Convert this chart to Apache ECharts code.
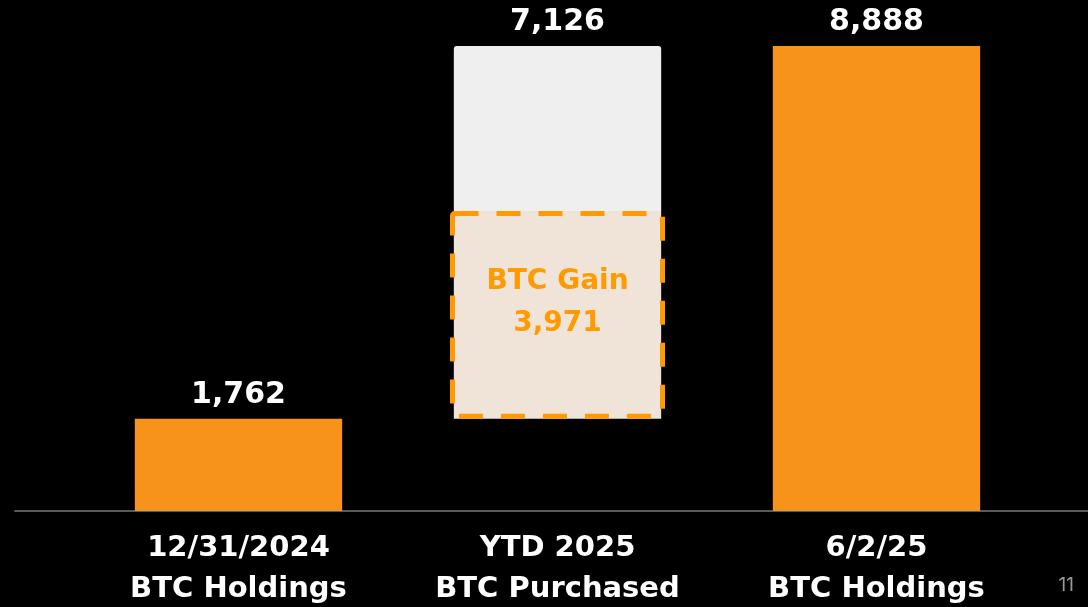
<!DOCTYPE html>
<html>
<head>
    <meta charset="UTF-8">
    <title>BTC Holdings</title>
    <script src="https://cdn.jsdelivr.net/npm/echarts@6/dist/echarts.min.js"></script>
</head>
<body style="margin:0;background:#000;">
<div id="main" style="width:1088px;height:607px;"></div>
<script type="text/javascript">
    var categories = ['12/31/2024\nBTC Holdings', 'YTD 2025\nBTC Purchased', '6/2/25\nBTC Holdings'];
    var totals = [1762, 7126, 8888];      // value shown above each bar
    var baseValues = [0, 1762, 0];        // invisible offset of the floating bar
    var gainValues = ['-', 3971, '-'];    // BTC Gain part of the purchased bar
    var gainLabel = 'BTC Gain';
    var pageNumber = '11';

    var orange = '#f7931a';
    var dashOrange = '#ff9a00';
    var font = '"DejaVu Sans"';

    function fmt(v) {
        return v.toLocaleString('en-US');
    }

    // remaining segment on top of the gain box
    var topValues = totals.map(function (v, i) {
        return gainValues[i] === '-' ? v : v - gainValues[i];
    });

    var gridBox = {left: 79, right: 52, top: 46, bottom: 96, outerBoundsMode: 'none'};

    var chart = echarts.init(document.getElementById('main'));
    var option = {
        backgroundColor: '#000',
        animation: false,
        grid: [
            gridBox,
            {left: 15, right: 0, top: 46, bottom: 96, outerBoundsMode: 'none'},
            gridBox
        ],
        xAxis: [{
            type: 'category',
            gridIndex: 0,
            data: categories,
            axisLine: {show: false},
            axisTick: {show: false},
            axisLabel: {
                color: '#fff',
                fontFamily: font,
                fontWeight: 'bold',
                fontSize: 29,
                lineHeight: 41,
                margin: 17
            }
        }, {
            type: 'category',
            gridIndex: 1,
            data: [''],
            axisLine: {lineStyle: {color: '#5a5a5a', width: 2}},
            axisTick: {show: false},
            axisLabel: {show: false}
        }, {
            type: 'category',
            gridIndex: 2,
            data: categories,
            show: false
        }],
        yAxis: [0, 1, 2].map(function (g) {
            return {type: 'value', gridIndex: g, min: 0, max: 8888, show: false};
        }),
        series: [
            {
                type: 'bar',
                stack: 'btc',
                barWidth: '65%',
                data: baseValues,
                itemStyle: {color: 'transparent'},
                silent: true
            },
            {
                type: 'bar',
                stack: 'btc',
                data: gainValues,
                itemStyle: {color: '#f0e4d8'}
            },
            {
                type: 'bar',
                stack: 'btc',
                data: topValues.map(function (v, i) {
                    return {
                        value: v,
                        itemStyle: gainValues[i] === '-'
                            ? {color: orange}
                            : {color: '#efefef', borderRadius: [3, 3, 0, 0]}
                    };
                }),
                label: {
                    show: true,
                    position: 'top',
                    distance: 9,
                    color: '#fff',
                    fontFamily: font,
                    fontWeight: 'bold',
                    fontSize: 30,
                    formatter: function (p) {
                        return fmt(totals[p.dataIndex]);
                    }
                }
            },
            // dashed outline of the gain box, a little wider than the bar
            {
                type: 'bar',
                xAxisIndex: 2,
                yAxisIndex: 2,
                stack: 'gain',
                barWidth: '67.4%',
                data: baseValues,
                itemStyle: {color: 'transparent'},
                silent: true
            },
            {
                type: 'bar',
                xAxisIndex: 2,
                yAxisIndex: 2,
                stack: 'gain',
                data: gainValues,
                z: 5,
                itemStyle: {
                    color: 'transparent',
                    borderColor: dashOrange,
                    borderWidth: 5,
                    borderType: [24, 18],
                    borderRadius: 2
                },
                label: {
                    show: true,
                    position: 'inside',
                    offset: [0, -12],
                    color: dashOrange,
                    fontFamily: font,
                    fontWeight: 'bold',
                    fontSize: 28,
                    lineHeight: 42,
                    formatter: function (p) {
                        return gainLabel + '\n' + fmt(p.value);
                    }
                }
            }
        ],
        graphic: [{
            type: 'text',
            right: 14,
            bottom: 12,
            style: {
                text: pageNumber,
                fill: '#999',
                font: '19px Inter'
            }
        }]
    };
    chart.setOption(option);
</script>
</body>
</html>
